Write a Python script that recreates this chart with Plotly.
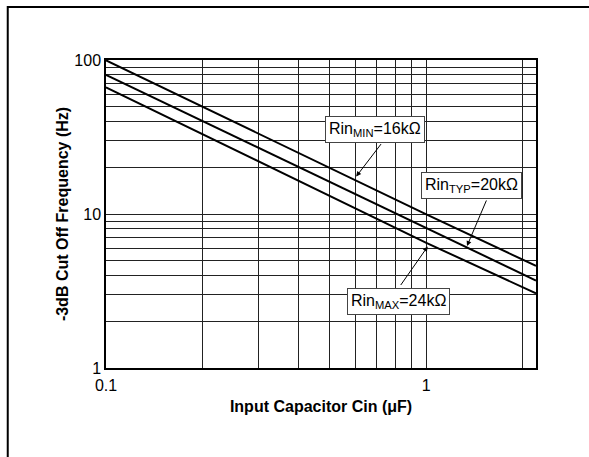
import math
import plotly.graph_objects as go

# Valores (Cin en uF, frecuencia de corte en Hz)
cin = [0.1, 1.0, 2.2]
f_rin_min = [99.5, 9.95, 4.6]
f_rin_typ = [80.0, 8.1, 3.7]
f_rin_max = [66.5, 6.5, 3.05]

x_ticks = [0.1, 0.2, 0.3, 0.4, 0.5, 0.6, 0.7, 0.8, 0.9, 1, 2]
x_labels = ["0.1", "", "", "", "", "", "", "", "", "1", ""]
y_ticks = [1, 2, 3, 4, 5, 6, 7, 8, 9, 10, 20, 30, 40, 50, 60, 70, 80, 90, 100]
y_labels = ["1"] + [""] * 8 + ["10"] + [""] * 8 + ["100"]

FONT = "Arial, Liberation Sans, sans-serif"

fig = go.Figure()
for name, serie in [("Rin MIN", f_rin_min), ("Rin TYP", f_rin_typ), ("Rin MAX", f_rin_max)]:
    fig.add_trace(go.Scatter(
        x=cin, y=serie, mode="lines", name=name,
        line=dict(color="black", width=2), showlegend=False,
    ))

# Etiquetas con recuadro (centro) y flechas (punta sobre la curva)
etiquetas = [
    ("Rin<sub>MIN</sub>=16kΩ", 0.693, 35.6),
    ("Rin<sub>TYP</sub>=20kΩ", 1.387, 15.4),
    ("Rin<sub>MAX</sub>=24kΩ", 0.818, 2.70),
]
flechas = [
    (0.604, 17.5, 26, -34),
    (1.34, 6.2, 20, -47),
    (1.01, 6.15, -28, 40),
]
for texto, cx, cy in etiquetas:
    fig.add_annotation(
        x=math.log10(cx), y=math.log10(cy), xref="x", yref="y",
        text=texto, showarrow=False,
        font=dict(family=FONT, size=16, color="black"),
        bgcolor="white", bordercolor="#444", borderwidth=1, borderpad=3,
    )
for hx, hy, ax, ay in flechas:
    fig.add_annotation(
        x=math.log10(hx), y=math.log10(hy), xref="x", yref="y",
        text="", showarrow=True, ax=ax, ay=ay,
        arrowhead=2, arrowsize=1, arrowwidth=1, arrowcolor="black",
    )

# Marco exterior
fig.add_shape(type="rect", xref="paper", yref="paper",
              x0=-0.2285, y0=-0.35, x1=1.2, y1=1.1721,
              line=dict(color="black", width=2))

fig.update_xaxes(
    type="log", range=[-1, math.log10(2.2)],
    tickvals=x_ticks, ticktext=x_labels,
    ticks="outside", ticklen=2, tickcolor="rgba(0,0,0,0)",
    showgrid=True, gridcolor="#222", gridwidth=1,
    showline=True, linecolor="black", linewidth=1.5, mirror=True,
    zeroline=False,
    tickfont=dict(family=FONT, size=16, color="black"),
    title=dict(text="<b>Input Capacitor Cin (μF)</b>", standoff=8,
               font=dict(family=FONT, size=16, color="black")),
)
fig.update_yaxes(
    type="log", range=[0, 2],
    tickvals=y_ticks, ticktext=y_labels, ticks="",
    showgrid=True, gridcolor="#222", gridwidth=1,
    showline=True, linecolor="black", linewidth=1.5, mirror=True,
    zeroline=False,
    tickfont=dict(family=FONT, size=16, color="black"),
    title=dict(text="<b>-3dB Cut Off Frequency (Hz)</b>", standoff=2,
               font=dict(family=FONT, size=16, color="black")),
)
fig.update_layout(
    width=589, height=457, autosize=False,
    margin=dict(l=106, r=53, t=60, b=89),
    paper_bgcolor="white", plot_bgcolor="white",
    font=dict(family=FONT, color="black"),
)
fig.write_html("out.html", config={"displayModeBar": False},
               post_script="document.body.style.margin='0';")
